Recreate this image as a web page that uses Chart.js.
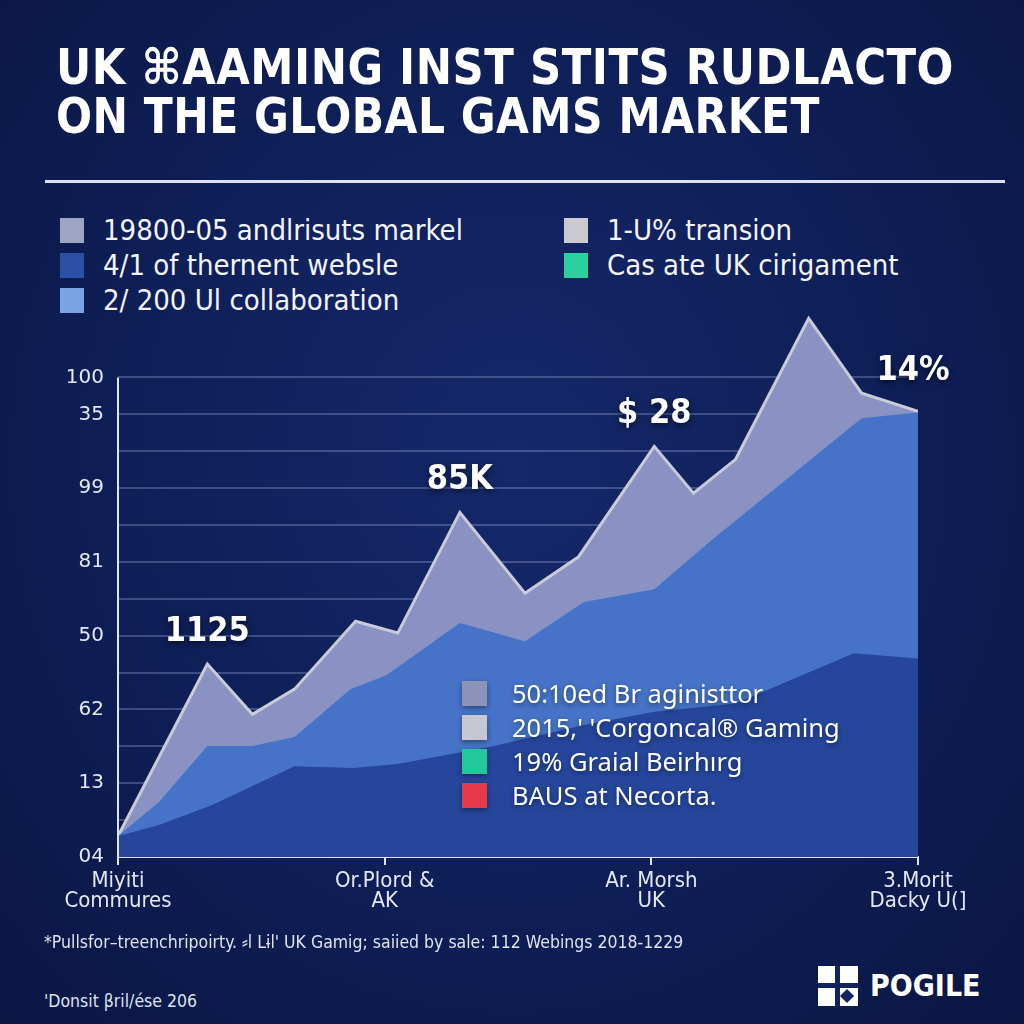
<!DOCTYPE html>
<html>
<head>
<meta charset="utf-8">
<script src="https://cdn.jsdelivr.net/npm/chart.js@4.4.1/dist/chart.umd.min.js"></script>
<style>
html, body { margin: 0; padding: 0; }
body {
  width: 1024px; height: 1024px; overflow: hidden; position: relative;
  background: radial-gradient(ellipse at 50% 45%, #15286a 0%, #0f1f58 50%, #0a1644 100%);
  font-family: "DejaVu Sans Condensed", "DejaVu Sans", sans-serif; color: #fff;
}
.tline { position: absolute; left: 56px; font-weight: bold; font-size: 49px; line-height: 48px;
  white-space: nowrap; transform-origin: 0 0; letter-spacing: 0.5px; }
.rule { position: absolute; left: 45px; top: 180px; width: 960px; height: 3px; background: #dfe2ee; }
.leg { position: absolute; font-size: 29px; line-height: 35px; white-space: nowrap; color: #f2f4fa; }
.leg div { height: 35px; display: flex; align-items: center; }
.leg i { display: inline-block; width: 24px; height: 25px; margin-right: 19px; }
.inner { position: absolute; left: 462px; top: 676px; font-family: "Noto Sans", sans-serif; font-size: 25.5px;
  line-height: 34px; white-space: nowrap; text-shadow: 0 2px 5px rgba(0,0,0,0.45); z-index: 2; }
.inner div { height: 34px; display: flex; align-items: center; }
.inner i { display: inline-block; width: 25px; height: 25px; margin-right: 25px; box-shadow: 0 2px 5px rgba(0,0,0,0.4); }
#wrap { position: absolute; left: 0; top: 300px; width: 1024px; height: 660px; }
.foot { position: absolute; left: 44px; font-size: 17.5px; color: #dfe3ee; white-space: nowrap; }
.logo { position: absolute; left: 870px; top: 968px; font-weight: bold; font-size: 30px; }
.icon { position: absolute; left: 818px; top: 966px; width: 40px; height: 40px; background: #fff; }
.icon b { position: absolute; background: #12235f; }
</style>
</head>
<body>
<div class="tline" id="t1" style="top:44px">UK ⌘AAMING INST STITS RUDLACTO</div>
<div class="tline" id="t2" style="top:93px">ON THE GLOBAL GAMS MARKET</div>
<div class="rule"></div>

<div class="leg" style="left:60px; top:213px">
  <div><i style="background:#9fa3c4"></i>19800-05 andlrisuts markel</div>
  <div><i style="background:#2b50a6"></i>4/1 of thernent webslе</div>
  <div><i style="background:#78a4e6"></i>2/ 200 Ul collaboration</div>
</div>
<div class="leg" style="left:564px; top:213px">
  <div><i style="background:#cacbd2"></i>1-U% transion</div>
  <div><i style="background:#2ecf9f"></i>Cas ate UK cirigament</div>
</div>

<div id="wrap"><canvas id="myChart"></canvas></div>

<div class="inner">
  <div><i style="background:#8d92b8"></i>50:10ed Br aginisttor</div>
  <div><i style="background:#c6c7d2"></i>2015,' 'Corgoncal® Gaming</div>
  <div><i style="background:#24c79b"></i>19% Graial Beirhırg</div>
  <div><i style="background:#e8394a"></i>BAUS at Necorta.</div>
</div>

<div class="foot" style="top:932px">*Pullsfor–treenchripoirty. ⸗l Lɨl' UK Gamig; saiied by sale: 112 Webings 2018-1229</div>
<div class="foot" style="top:991px">'Donsit βril/ése 206</div>
<div class="icon"><b style="left:17px;top:0;width:5px;height:40px"></b><b style="left:0;top:17px;width:40px;height:5px"></b><b style="left:24px;top:25px;width:10px;height:10px;transform:rotate(45deg)"></b></div>
<div class="logo">POGILE</div>

<script>
// fit title lines to the reference widths
[['t1', 898], ['t2', 764]].forEach(([id, w]) => {
  const el = document.getElementById(id);
  el.style.transform = 'scaleX(' + (w / el.getBoundingClientRect().width) + ')';
});

const xTickValues = [0, 1, 2, 3];
const xTickLabels = [['Miyiti', 'Commures'], ['Or.Plord &', 'AK'], ['Ar. Morsh', 'UK'], ['3.Morit', 'Dacky U(]']];

const yTickValues = [0, 10, 20, 30, 40, 50, 60, 70, 80, 90, 100, 110, 120, 130];
const yTickLabels = ['04', '', '13', '', '62', '', '50', '', '81', '', '99', '', '35', '100'];

const topX = [0, 0.335, 0.504, 0.662, 0.891, 1.049, 1.282, 1.526, 1.726, 2.011, 2.158, 2.316, 2.59, 2.789, 3.0];
const topY = [5.7, 52.3, 38.7, 45.5, 63.9, 60.7, 93.4, 71.5, 81.3, 111.3, 98.6, 107.8, 146, 125.7, 120.8];

const midX = [0, 0.154, 0.335, 0.504, 0.662, 0.872, 1.008, 1.282, 1.526, 1.748, 2.011, 2.211, 2.59, 2.789, 3.0];
const midY = [5.7, 14.9, 30.1, 30.1, 32.5, 45.5, 49.3, 63.4, 58.5, 69.1, 72.6, 85.0, 107.3, 118.9, 120.5];

const lowX = [0, 0.154, 0.353, 0.662, 0.88, 1.049, 1.41, 1.748, 2.011, 2.316, 2.759, 3.0];
const lowY = [5.7, 8.7, 14.1, 24.6, 24.1, 25.2, 30.1, 35.8, 39.4, 41.6, 55.2, 53.8];

const peakLabels = ['1125', '85K', '$ 28', '14%'];
const peakIndex = [1, 6, 9, 14];

const pts = (xs, ys) => xs.map((x, i) => ({ x: x, y: ys[i] }));

// left axis line only runs up to the top tick
const axisPlugin = {
  id: 'leftAxis',
  afterDatasetsDraw(chart) {
    const { ctx, chartArea, scales } = chart;
    const top = scales.y.getPixelForValue(yTickValues[yTickValues.length - 1]);
    ctx.save();
    ctx.strokeStyle = '#dfe3ee';
    ctx.lineWidth = 2;
    ctx.beginPath();
    ctx.moveTo(chartArea.left, top);
    ctx.lineTo(chartArea.left, chartArea.bottom);
    ctx.stroke();
    ctx.restore();
  }
};

const peakPlugin = {
  id: 'peaks',
  afterDatasetsDraw(chart) {
    const ctx = chart.ctx;
    const meta = chart.getDatasetMeta(0);
    ctx.save();
    ctx.font = 'bold 34px "DejaVu Sans Condensed", "DejaVu Sans", sans-serif';
    ctx.fillStyle = '#ffffff';
    ctx.textAlign = 'center';
    ctx.textBaseline = 'middle';
    ctx.shadowColor = 'rgba(0,0,0,0.6)';
    ctx.shadowBlur = 6;
    ctx.shadowOffsetY = 2;
    peakIndex.forEach((idx, i) => {
      const p = meta.data[idx];
      ctx.fillText(peakLabels[i], p.x - (i === 3 ? 5 : 0), p.y - (i === 3 ? 40 : 32));
    });
    ctx.restore();
  }
};

const ctx = document.getElementById('myChart');

new Chart(ctx, {
  type: 'line',
  data: {
    datasets: [
      {
        label: 'top',
        data: pts(topX, topY),
        fill: 'origin',
        backgroundColor: '#8a91c3',
        borderColor: '#c8cbd9',
        borderWidth: 3,
        pointRadius: 0,
        tension: 0,
        order: 3
      },
      {
        label: 'middle',
        data: pts(midX, midY),
        fill: 'origin',
        backgroundColor: '#4673c7',
        borderWidth: 0,
        pointRadius: 0,
        tension: 0,
        order: 2
      },
      {
        label: 'bottom',
        data: pts(lowX, lowY),
        fill: 'origin',
        backgroundColor: '#26469c',
        borderWidth: 0,
        pointRadius: 0,
        tension: 0,
        order: 1
      }
    ]
  },
  options: {
    responsive: true,
    maintainAspectRatio: false,
    animation: false,
    layout: { padding: { top: 11, right: 106, left: 0, bottom: 0 } },
    plugins: { legend: { display: false }, tooltip: { enabled: false } },
    scales: {
      x: {
        type: 'linear',
        min: 0,
        max: 3,
        afterBuildTicks: s => { s.ticks = xTickValues.map(v => ({ value: v })); },
        afterFit: s => { s.height = 103; s.paddingLeft = 0; s.paddingRight = 0; },
        ticks: {
          autoSkip: false,
          maxRotation: 0,
          color: '#e4e8f3',
          padding: 6,
          font: { family: '"DejaVu Sans Condensed", "DejaVu Sans", sans-serif', size: 22, lineHeight: 0.92 },
          callback: v => xTickLabels[xTickValues.indexOf(v)]
        },
        grid: { drawOnChartArea: false, drawTicks: true, tickLength: 8, color: '#dfe3ee', lineWidth: 2 },
        border: { color: '#dfe3ee', width: 2 }
      },
      y: {
        min: 0,
        max: 148,
        afterBuildTicks: s => { s.ticks = yTickValues.map(v => ({ value: v })); },
        afterFit: s => { s.width = 118; s.paddingTop = 0; s.paddingBottom = 0; },
        ticks: {
          autoSkip: false,
          color: '#e4e8f3',
          padding: 14,
          font: { family: '"DejaVu Sans", sans-serif', size: 20 },
          callback: v => yTickLabels[yTickValues.indexOf(v)]
        },
        grid: { color: 'rgba(150,165,215,0.35)', lineWidth: 2, drawTicks: false },
        border: { display: false }
      }
    }
  },
  plugins: [axisPlugin, peakPlugin]
});
</script>
</body>
</html>
